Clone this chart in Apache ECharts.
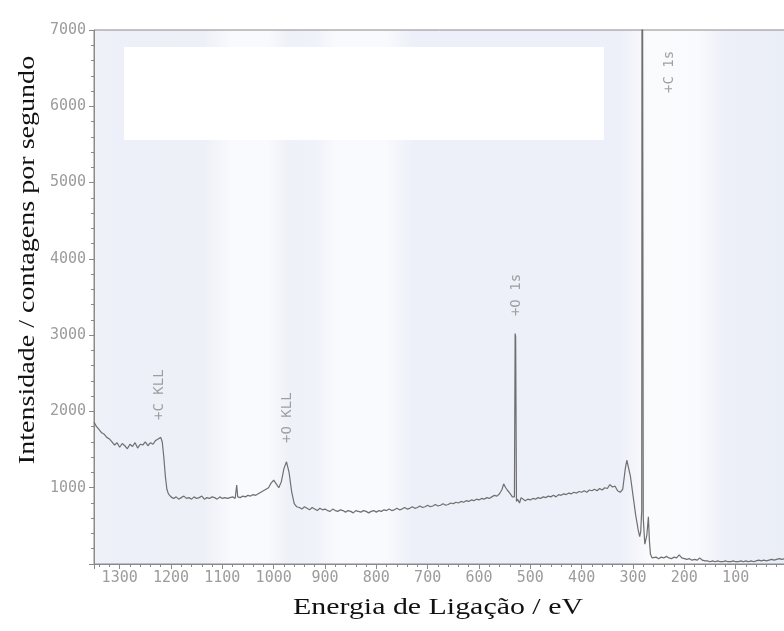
<!DOCTYPE html>
<html>
<head>
<meta charset="utf-8">
<script src="https://cdn.jsdelivr.net/npm/echarts@6/dist/echarts.min.js"></script>
<style>html,body{margin:0;padding:0;background:#fff}#c{width:784px;height:631px}</style>
</head>
<body>
<div id="c"></div>
<script>
// Spectrum segments: [binding energy (eV), intensity (counts/s)]
const cKllRegion = [
  [1350,1860],[1345,1800],[1340,1760],[1335,1720],[1330,1700],[1325,1660],[1320,1640],
  [1315,1600],[1310,1560],[1305,1590],[1300,1530],[1295,1580],[1290,1550],[1285,1510],
  [1280,1570],[1275,1540],[1270,1590],[1265,1520],[1260,1570],[1255,1560],[1250,1600],
  [1245,1550],[1240,1590],[1235,1570],[1230,1620],[1225,1640],[1220,1660],[1217,1600],
  [1214,1400],[1211,1150],[1208,980],[1205,920],[1200,880]
];
const oKllRegion = [
  [1195,860],[1190,880],[1185,850],[1180,870],[1175,890],[1170,860],[1165,870],[1160,850],
  [1155,880],[1150,860],[1145,870],[1140,890],[1135,850],[1130,870],[1125,860],[1120,880],
  [1115,870],[1110,850],[1105,880],[1100,860],[1095,870],[1090,860],[1085,870],[1080,880],
  [1075,860],[1072,1035],[1070,880],[1065,870],[1060,890],[1055,880],[1050,900],[1045,890],
  [1040,910],[1035,900],[1030,920],[1025,940],[1020,960],[1015,980],[1010,1000],[1005,1060],
  [1000,1100],[995,1050],[990,1000],[985,1080],[980,1250],[975,1340],[970,1200],[965,950],
  [960,790],[955,750]
];
const valleyRegion = [
  [950,740],[945,720],[940,750],[935,730],[930,710],[925,740],[920,720],[915,700],[910,730],
  [905,710],[900,720],[895,700],[890,690],[885,720],[880,700],[875,690],[870,710],[865,700],
  [860,680],[855,700],[850,690],[845,670],[840,700],[835,690],[830,680],[825,700],[820,690],
  [815,670],[810,690],[805,700],[800,680],[795,700],[790,690],[785,710],[780,700],[775,720],
  [770,700],[765,710],[760,730],[755,710],[750,720],[745,740],[740,720],[735,730],[730,750],
  [725,730],[720,740],[715,760],[710,740],[705,750],[700,770],[695,750],[690,760],[685,780],
  [680,760],[675,770],[670,790],[665,770],[660,780],[655,800],[650,790],[645,810],[640,800],
  [635,820],[630,810],[625,830],[620,820],[615,840],[610,830],[605,850],[600,840],[595,860],
  [590,850],[585,870],[580,860],[575,880],[570,900],[565,890],[560,920],[555,980],[552,1050],
  [548,1000],[545,970],[540,930],[535,880]
];
const o1sRegion = [
  [531,880],[529.6,3020],[528.6,2980],[527,820],[525,850],[521,800],[518,870],[515,860],
  [510,830],[505,850],[500,840],[495,860],[490,850],[485,870],[480,860],[475,880],[470,870],
  [465,890],[460,880],[455,900],[450,880],[445,910],[440,900],[435,920],[430,910],[425,930],
  [420,920],[415,940],[410,930],[405,950],[400,940],[395,960],[390,940],[385,970],[380,960],
  [375,980],[370,960],[365,990],[360,970],[355,1000],[350,990],[345,1040],[340,1010],
  [335,1020],[330,960],[325,940],[320,980],[315,1250],[312,1360],[310,1340],[305,1150],
  [300,900],[295,650],[290,450],[287,360]
];
const c1sRegion = [
  [285,420],[283,700],[282.2,12000],[281.4,12000],[280,600],[277,260],[273,380],[270,620],
  [268,300],[266,130],[263,80]
];
const tailRegion = [
  [260,80],[255,90],[250,70],[245,90],[240,80],[235,100],[230,80],[225,70],[220,90],[215,80],
  [210,120],[205,80],[200,70],[195,60],[190,70],[185,50],[180,60],[175,50],[170,80],[165,50],
  [160,40],[155,40],[150,30],[145,40],[140,30],[135,40],[130,30],[125,30],[120,40],[115,30],
  [110,30],[105,40],[100,30],[95,30],[90,40],[85,30],[80,40],[75,30],[70,40],[65,30],[60,40],
  [55,50],[50,40],[45,50],[40,40],[35,50],[30,60],[25,50],[20,60],[15,70],[10,60],[5,70]
];
// Peak annotations
const peakNames  = ['+C KLL', '+O KLL', '+O 1s', '+C 1s'];
const peakEnergy = [1222, 973, 528, 229];
const peakLabelY = [1888, 1586, 3250, 6174];
// Axis ticks and titles
const xTicks = [1300, 1200, 1100, 1000, 900, 800, 700, 600, 500, 400, 300, 200, 100];
const yTicks = [1000, 2000, 3000, 4000, 5000, 6000, 7000];
const xTitle = 'Energia de Ligação / eV';
const yTitle = 'Intensidade / contagens por segundo';

const spectrum = [].concat(cKllRegion, oKllRegion, valleyRegion, o1sRegion, c1sRegion, tailRegion);
const peakData = peakNames.map((n, i) => [peakEnergy[i], peakLabelY[i], n]);

const tickFont = { color: '#9c9c9c', fontFamily: 'DejaVu Sans Mono', fontSize: 15 };
const axisGray = '#8a8a8a';
const chart = echarts.init(document.getElementById('c'), null, { renderer: 'canvas' });
chart.setOption({
  backgroundColor: '#ffffff',
  animation: false,
  grid: {
    left: 94, top: 30, width: 693, height: 534,
    outerBoundsMode: 'none', containLabel: false,
    show: true, borderColor: axisGray, borderWidth: 1,
    backgroundColor: {
      type: 'linear', x: 0, y: 0, x2: 1, y2: 0,
      colorStops: [
        { offset: 0, color: '#f0f2f9' }, { offset: 0.03, color: '#edf0f8' },
        { offset: 0.16, color: '#eef0f8' }, { offset: 0.2, color: '#f9fafd' },
        { offset: 0.25, color: '#f9fafd' }, { offset: 0.28, color: '#eff1f8' },
        { offset: 0.32, color: '#f0f2f9' }, { offset: 0.35, color: '#f9fafd' },
        { offset: 0.42, color: '#f9fafd' }, { offset: 0.46, color: '#edf0f8' },
        { offset: 0.76, color: '#edf0f8' }, { offset: 0.8, color: '#fafbfd' },
        { offset: 0.87, color: '#f9fafd' }, { offset: 0.91, color: '#edf0f8' },
        { offset: 1, color: '#eaeef7' }
      ]
    }
  },
  xAxis: {
    type: 'value', inverse: true, min: 0, max: 1350, interval: 100,
    axisLine: { show: true, onZero: false, lineStyle: { color: axisGray, width: 1 } },
    axisTick: { show: true, length: 5, lineStyle: { color: axisGray } },
    minorTick: { show: true, splitNumber: 5, length: 3, lineStyle: { color: axisGray } },
    splitLine: { show: false },
    axisLabel: Object.assign({ margin: 7, formatter: v => xTicks.indexOf(v) >= 0 ? String(v) : '' }, tickFont)
  },
  yAxis: {
    type: 'value', min: 0, max: 7000, interval: 1000, position: 'left',
    axisLine: { show: true, onZero: false, lineStyle: { color: axisGray, width: 1 } },
    axisTick: { show: true, length: 5, lineStyle: { color: axisGray } },
    minorTick: { show: true, splitNumber: 5, length: 3, lineStyle: { color: axisGray } },
    splitLine: { show: false },
    axisLabel: Object.assign({ margin: 8, formatter: v => yTicks.indexOf(v) >= 0 ? String(v) : '' }, tickFont)
  },
  graphic: [{
    type: 'rect', z: 5, silent: true,
    shape: { x: 124, y: 47, width: 480, height: 93 },
    style: { fill: '#ffffff' }
  }, {
    type: 'text', z: 5, silent: true, x: 438, y: 608, scaleX: 1.3, scaleY: 1,
    style: { text: xTitle, fontFamily: 'Liberation Serif', fontSize: 23, fill: '#111',
             align: 'center', verticalAlign: 'middle' }
  }, {
    type: 'text', z: 5, silent: true, x: 28, y: 260, rotation: Math.PI / 2, scaleX: 1.22, scaleY: 1,
    style: { text: yTitle, fontFamily: 'Liberation Serif', fontSize: 23, fill: '#111',
             align: 'center', verticalAlign: 'middle' }
  }],
  series: [{
    type: 'line', data: spectrum, showSymbol: false, symbol: 'none', smooth: false,
    clip: true, sampling: null, z: 10,
    lineStyle: { color: '#6f6f6f', width: 1.2 }
  }, {
    type: 'scatter', data: peakData, symbolSize: 0, z: 11,
    label: {
      show: true, position: 'inside', rotate: 90, align: 'left', verticalAlign: 'middle',
      formatter: p => p.value[2],
      color: '#8a8a8a', fontFamily: 'DejaVu Sans Mono', fontSize: 14
    }
  }]
});
</script>
</body>
</html>
